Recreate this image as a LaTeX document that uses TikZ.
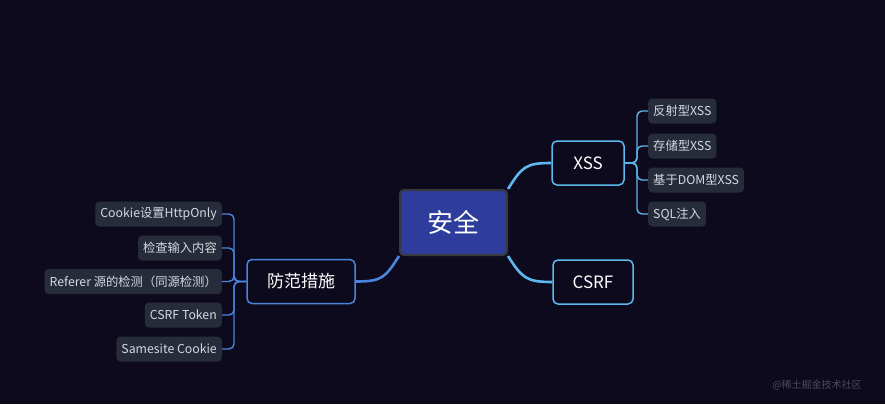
\documentclass[tikz,border=0pt]{standalone}
\usepackage{fontspec}
\setmainfont{Noto Sans CJK SC}
\usepackage{xcolor}
\usepackage{tikz}
\usetikzlibrary{positioning}

\definecolor{bgnavy}{HTML}{0C0A1C}
\definecolor{rootblue}{HTML}{2E3D9C}
\definecolor{rootedge}{HTML}{38383E}
\definecolor{skyline}{HTML}{5CB8EE}
\definecolor{guardline}{HTML}{4A84DC}
\definecolor{leaffill}{HTML}{262C3A}
\definecolor{leaftext}{HTML}{D4D8E2}
\definecolor{marktext}{HTML}{4C4A5E}

\begin{document}
\begin{tikzpicture}[x=1pt, y=-1pt,
        rootbox/.style={rectangle, draw=rootedge, fill=rootblue, line width=2pt, rounded corners=4pt,
            minimum width=107pt, minimum height=65pt, text=white, font=\fontsize{26}{30}\selectfont},
        topic/.style={rectangle, draw=#1, fill=bgnavy, line width=1.5pt, rounded corners=5pt,
            minimum height=44pt, text=white, font=\fontsize{17}{20}\selectfont},
        leaf/.style={rectangle, fill=leaffill, rounded corners=4pt, inner xsep=5pt,
            minimum height=25pt, text=leaftext, font=\fontsize{12.3}{14}\selectfont},
        trunk/.style={line width=2.6pt, draw=#1},
        twig/.style={line width=1.4pt, draw=#1, rounded corners=5pt}
    ]
        \fill[bgnavy] (0,0) rectangle (885,404);

        % ================= CENTRE =================
        \node[rootbox] (root) at (453.5,222.5) {安全};

        % ================= RIGHT SIDE =================
        \node[topic=skyline, minimum width=72pt] (xss) at (588,163) {XSS};
        \node[topic=skyline, minimum width=80pt] (csrf) at (593,282) {CSRF};

        \node[leaf, anchor=west] (xss1) at (648,111) {反射型XSS};
        \node[leaf, anchor=west] (xss2) at (648,146) {存储型XSS};
        \node[leaf, anchor=west] (xss3) at (648,180) {基于DOM型XSS};
        \node[leaf, anchor=west] (xss4) at (648,214) {SQL注入};

        \coordinate (xssbus) at (637,163);

        \draw[trunk=skyline] (root.north east) .. controls +(14,-22) and +(-26,0) .. (xss.west);
        \draw[trunk=skyline] (root.south east) .. controls +(14,22) and +(-26,0) .. (csrf.west);

        \foreach \k in {1,...,4}
            \draw[twig=skyline] (xss.east) -- (xssbus) |- (xss\k.west);

        % ================= LEFT SIDE =================
        \node[topic=guardline, minimum width=108pt] (guard) at (301,281.5) {防范措施};

        \node[leaf, anchor=east] (guard1) at (222,214) {Cookie设置HttpOnly};
        \node[leaf, anchor=east] (guard2) at (222,248) {检查输入内容};
        \node[leaf, anchor=east] (guard3) at (222,281.5) {Referer 源的检测（同源检测）};
        \node[leaf, anchor=east] (guard4) at (222,315) {CSRF Token};
        \node[leaf, anchor=east] (guard5) at (222,349) {Samesite Cookie};

        \coordinate (guardbus) at (234,281.5);

        \draw[trunk=guardline] (root.south west) .. controls +(-14,22) and +(26,0) .. (guard.east);

        \foreach \k in {1,...,5}
            \draw[twig=guardline] (guard.west) -- (guardbus) |- (guard\k.east);

        % watermark
        \node[text=marktext, font=\fontsize{10}{12}\selectfont] (mark) at (817,385) {@稀土掘金技术社区};
    \end{tikzpicture}
\end{document}
